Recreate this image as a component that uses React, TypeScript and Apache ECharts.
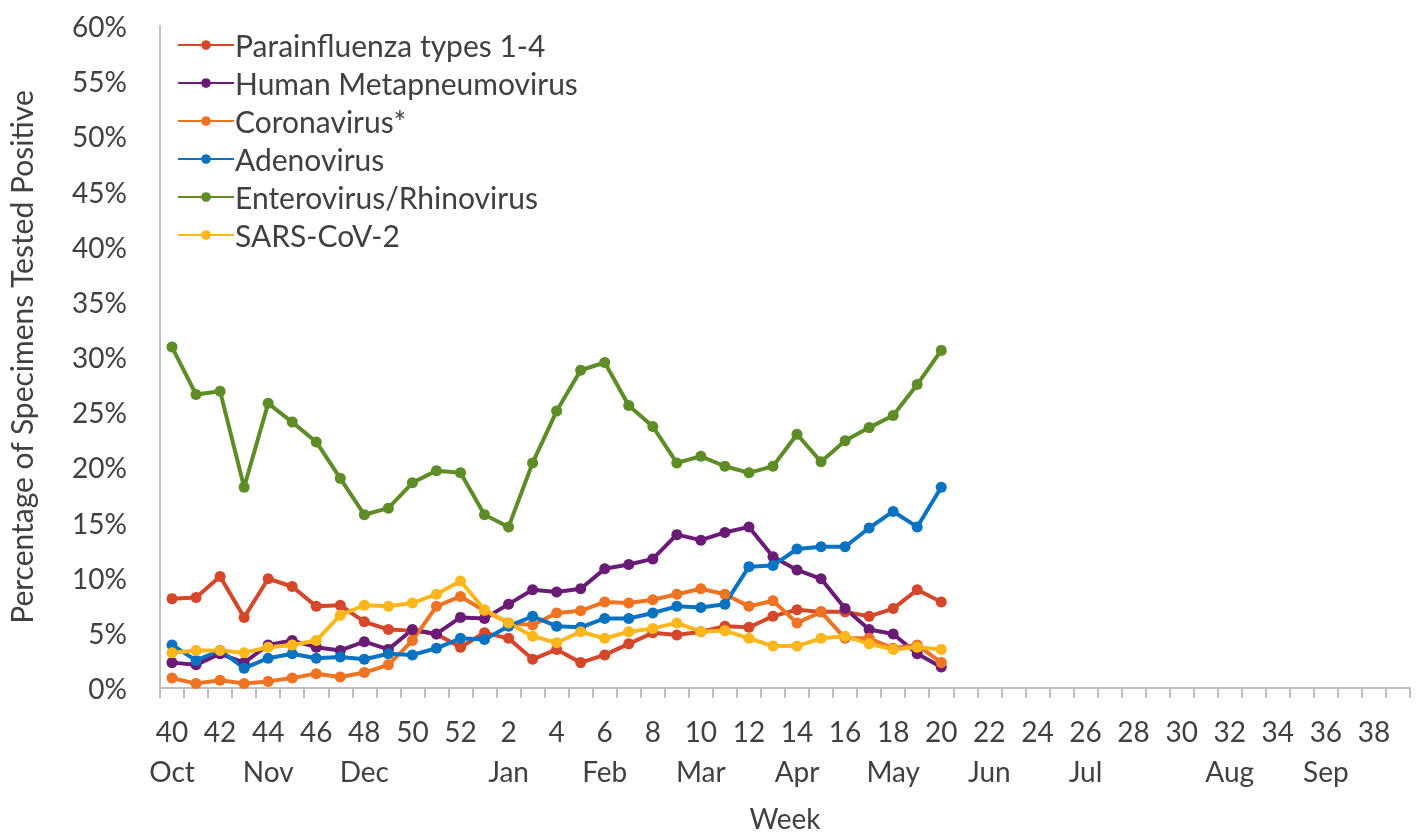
import React, { useEffect, useRef } from "react";
import * as echarts from "echarts";

const weeks: string[] = [
  "40", "41", "42", "43", "44", "45", "46", "47", "48", "49", "50", "51", "52",
  "1", "2", "3", "4", "5", "6", "7", "8", "9", "10", "11", "12", "13", "14", "15", "16", "17", "18", "19", "20",
  "21", "22", "23", "24", "25", "26", "27", "28", "29", "30", "31", "32", "33", "34", "35", "36", "37", "38", "39",
];

const monthByWeek: Record<string, string> = {
  "40": "Oct", "44": "Nov", "48": "Dec", "2": "Jan", "6": "Feb", "10": "Mar",
  "14": "Apr", "18": "May", "22": "Jun", "26": "Jul", "32": "Aug", "36": "Sep",
};

const parainfluenza = [8.1, 8.2, 10.1, 6.4, 9.9, 9.2, 7.4, 7.5, 6.0, 5.3, 5.2, 4.9, 3.7, 5.0, 4.5, 2.6, 3.5, 2.3, 3.0, 4.0, 5.0, 4.8, 5.1, 5.6, 5.5, 6.5, 7.1, 6.9, 6.9, 6.5, 7.2, 8.9, 7.8];
const hmpv = [2.3, 2.1, 3.1, 2.3, 3.9, 4.3, 3.7, 3.4, 4.2, 3.5, 5.3, 4.9, 6.4, 6.3, 7.6, 8.9, 8.7, 9.0, 10.8, 11.2, 11.7, 13.9, 13.4, 14.1, 14.6, 11.9, 10.7, 9.9, 7.2, 5.3, 4.9, 3.1, 1.9];
const coronavirus = [0.9, 0.4, 0.7, 0.4, 0.6, 0.9, 1.3, 1.0, 1.4, 2.1, 4.3, 7.4, 8.3, 7.0, 5.9, 5.7, 6.8, 7.0, 7.8, 7.7, 8.0, 8.5, 9.0, 8.5, 7.4, 7.9, 5.9, 6.9, 4.5, 4.5, 3.6, 3.9, 2.3];
const adenovirus = [3.9, 2.5, 3.4, 1.8, 2.7, 3.1, 2.7, 2.8, 2.6, 3.1, 3.0, 3.6, 4.5, 4.4, 5.6, 6.5, 5.6, 5.5, 6.3, 6.3, 6.8, 7.4, 7.3, 7.6, 11.0, 11.1, 12.6, 12.8, 12.8, 14.5, 16.0, 14.6, 18.2];
const enteroRhino = [30.9, 26.6, 26.9, 18.2, 25.8, 24.1, 22.3, 19.0, 15.7, 16.3, 18.6, 19.7, 19.5, 15.7, 14.6, 20.4, 25.1, 28.8, 29.5, 25.6, 23.7, 20.4, 21.0, 20.1, 19.5, 20.1, 23.0, 20.5, 22.4, 23.6, 24.7, 27.5, 30.6];
const sarsCov2 = [3.2, 3.4, 3.4, 3.2, 3.7, 3.9, 4.3, 6.6, 7.5, 7.4, 7.7, 8.5, 9.7, 7.1, 5.9, 4.7, 4.1, 5.1, 4.5, 5.1, 5.4, 5.9, 5.1, 5.2, 4.5, 3.8, 3.8, 4.5, 4.7, 4.0, 3.5, 3.7, 3.5];

const seriesDefs = [
  { name: "Parainfluenza types 1-4", data: parainfluenza, color: "#D4472A" },
  { name: "Human Metapneumovirus", data: hmpv, color: "#6A1B75" },
  { name: "Coronavirus*", data: coronavirus, color: "#EE7322" },
  { name: "Adenovirus", data: adenovirus, color: "#0A72C2" },
  { name: "Enterovirus/Rhinovirus", data: enteroRhino, color: "#5E8C26" },
  { name: "SARS-CoV-2", data: sarsCov2, color: "#FDB71C" },
];

const FONT = "Lato";
const TEXT = "#404040";
const FS = 28;

export default function App() {
  const ref = useRef<HTMLDivElement>(null);
  useEffect(() => {
    if (!ref.current) return;
    const chart = echarts.init(ref.current, undefined, { renderer: "svg" });
    chart.setOption({
      animation: false,
      textStyle: { fontFamily: FONT, color: TEXT },
      grid: { left: 160, right: 12, top: 26, bottom: 148, containLabel: false, outerBoundsMode: "none" },
      legend: {
        orient: "vertical",
        left: 172,
        top: 25,
        itemWidth: 56,
        itemHeight: 12,
        itemGap: 8,
        textStyle: { fontFamily: FONT, fontSize: 30, color: TEXT, padding: [0, 0, 0, -4] },
        data: seriesDefs.map((s) => s.name),
      },
      xAxis: {
        type: "category",
        data: weeks,
        boundaryGap: true,
        name: "Week",
        nameLocation: "middle",
        nameGap: 116,
        nameTextStyle: { fontFamily: FONT, fontSize: FS, color: TEXT },
        axisLine: { lineStyle: { color: "#BFBFBF", width: 2 } },
        axisTick: { show: true, interval: 0, length: 10, lineStyle: { color: "#BFBFBF", width: 2 } },
        axisLabel: {
          interval: 1,
          margin: 23,
          fontFamily: FONT,
          fontSize: FS,
          color: TEXT,
          lineHeight: 40,
          formatter: (v: string) => v + "\n" + (monthByWeek[v] || " "),
        },
        splitLine: { show: false },
      },
      yAxis: {
        type: "value",
        min: 0,
        max: 60,
        interval: 5,
        name: "Percentage of Specimens Tested Positive",
        nameLocation: "middle",
        nameRotate: 90,
        nameGap: 124,
        nameTextStyle: { fontFamily: FONT, fontSize: 30, color: TEXT },
        axisLine: { show: true, lineStyle: { color: "#BFBFBF", width: 2 } },
        axisTick: { show: false },
        splitLine: { show: false },
        axisLabel: {
          margin: 33,
          fontFamily: FONT,
          fontSize: FS,
          color: TEXT,
          formatter: "{value}%",
        },
      },
      series: seriesDefs.map((s) => ({
        name: s.name,
        type: "line",
        data: s.data,
        symbol: "circle",
        symbolSize: 11,
        showSymbol: true,
        lineStyle: { color: s.color, width: 4 },
        itemStyle: { color: s.color },
      })),
    });
    return () => chart.dispose();
  }, []);
  return (
    <div
      ref={ref}
      style={{ position: "fixed", left: 0, top: 0, width: 1422, height: 836 }}
    />
  );
}
